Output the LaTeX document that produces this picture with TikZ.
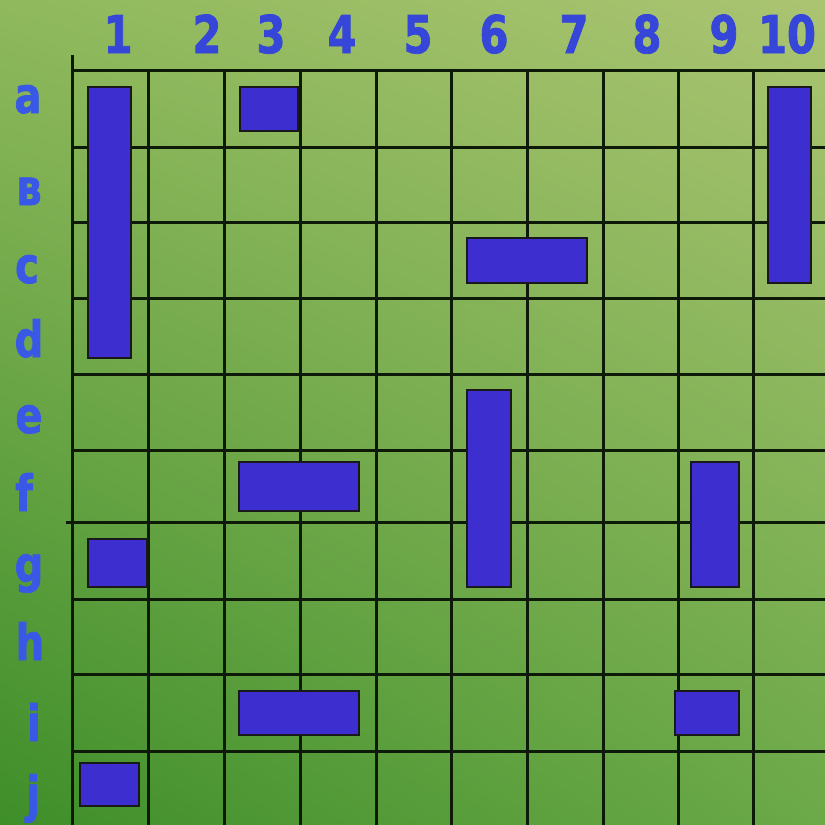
\documentclass[tikz,border=0pt]{standalone}
\usepackage{fontspec}
\usetikzlibrary{shadings}
\newfontfamily\lab{DejaVu Sans}[FakeStretch=0.8, UprightFont={* Bold}, FakeBold=1.5]
\definecolor{bgTL}{HTML}{8FB95C}
\definecolor{bgTR}{HTML}{ABC472}
\definecolor{bgBL}{HTML}{3E8E2A}
\definecolor{bgBR}{HTML}{6CA948}
\definecolor{shipblue}{HTML}{3D2ED0}
\definecolor{numblue}{HTML}{3546D8}
\definecolor{letblue}{HTML}{3A58E6}
\definecolor{gridline}{HTML}{0E1A08}
\tikzset{
  gridln/.style={draw=gridline, line width=3pt},
  ship/.style={draw=black!90, line width=2.8pt, fill=shipblue},
  colnum/.style={anchor=base, text=numblue, font=\lab\fontsize{52}{52}\selectfont, inner sep=0pt},
  rowlet/.style={anchor=base, text=letblue, font=\lab\fontsize{50}{50}\selectfont, inner sep=0pt}
}
\begin{document}
\begin{tikzpicture}[x=1pt,y=-1pt]
\useasboundingbox (0,0) rectangle (825,825);
\shade[upper left=bgTL, upper right=bgTR, lower left=bgBL, lower right=bgBR] (0,0) rectangle (825,825);
% grid
\foreach \x in {148,224,300,376,451,527,603,678,753}
  \draw[gridln] (\x,70) -- (\x,825);
\draw[gridln] (72,55) -- (72,825);
\foreach \y in {70,147,222,298,374,450,599,674,751}
  \draw[gridln] (72,\y) -- (825,\y);
\draw[gridln] (66,522) -- (825,522);
% ships
\draw[ship] (88,87) rectangle (131,358);
\draw[ship] (240,87) rectangle (298,131);
\draw[ship] (768,87) rectangle (811,283);
\draw[ship] (467,238) rectangle (587,283);
\draw[ship] (467,390) rectangle (511,587);
\draw[ship] (239,462) rectangle (359,511);
\draw[ship] (88,539) rectangle (147,587);
\draw[ship] (691,462) rectangle (739,587);
\draw[ship] (239,691) rectangle (359,735);
\draw[ship] (675,691) rectangle (739,735);
\draw[ship] (80,763) rectangle (139,806);
% column numbers
\node[colnum] (c1) at (118,53) {1};
\node[colnum] (c2) at (207,53) {2};
\node[colnum] (c3) at (271,53) {3};
\node[colnum] (c4) at (342,53) {4};
\node[colnum] (c5) at (418,53) {5};
\node[colnum] (c6) at (494,53) {6};
\node[colnum] (c7) at (574,53) {7};
\node[colnum] (c8) at (647,53) {8};
\node[colnum] (c9) at (724,53) {9};
\node[colnum] (c10) at (787,53) {10};
% row letters
\node[rowlet] (ra) at (28,113) {a};
\node[rowlet] (rb) at (29,205) {в};
\node[rowlet] (rc) at (27,283) {c};
\node[rowlet] (rd) at (29,357) {d};
\node[rowlet] (re) at (29,433) {e};
\node[rowlet] (rf) at (24,511) {f};
\node[rowlet] (rg) at (29,582) {g};
\node[rowlet] (rh) at (30,660) {h};
\node[rowlet] (ri) at (34,741) {i};
\node[rowlet] (rj) at (33,812) {j};
\end{tikzpicture}
\end{document}
